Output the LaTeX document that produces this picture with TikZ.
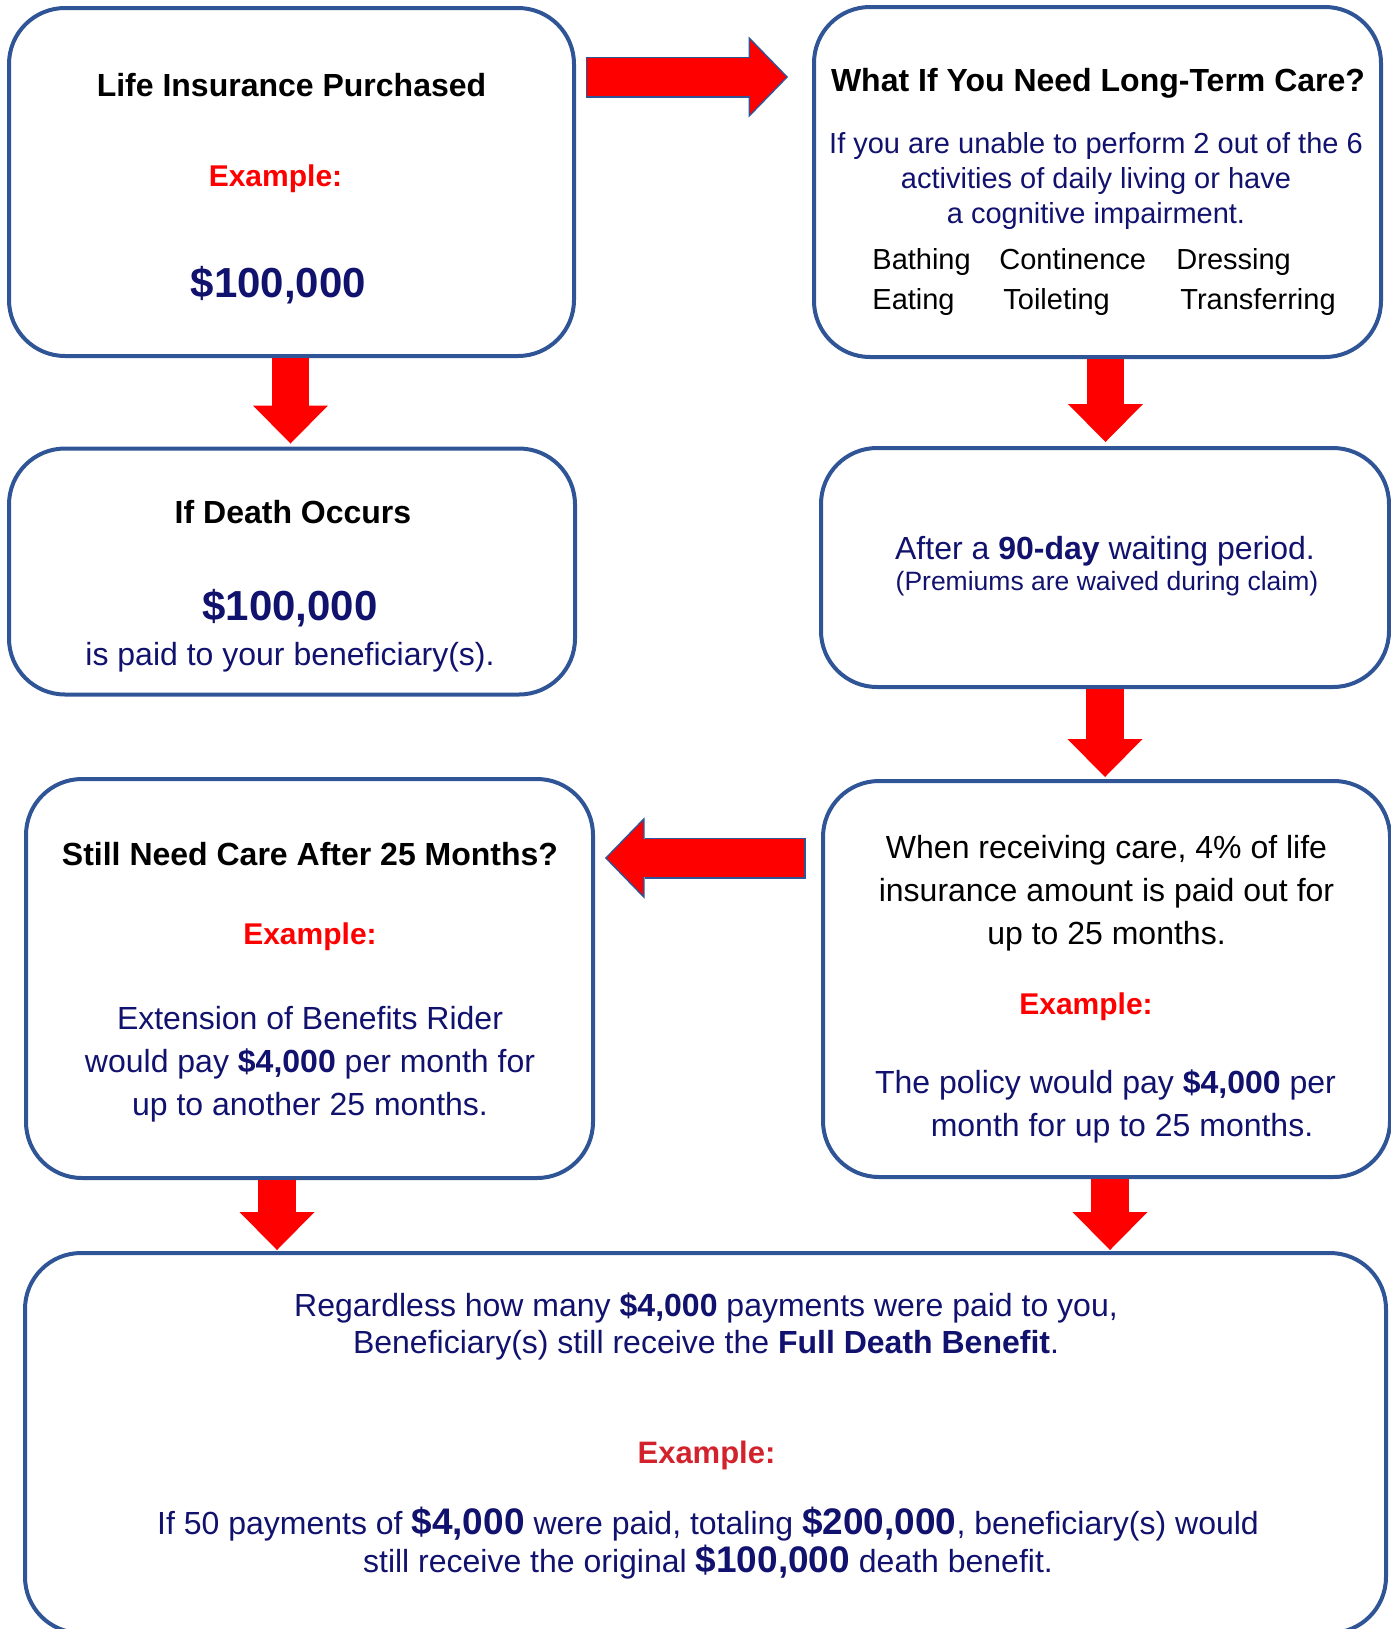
\documentclass[tikz,border=0pt]{standalone}
\usepackage{fontspec}
\setmainfont{Liberation Sans}
\usetikzlibrary{arrows.meta}
\definecolor{boxblue}{RGB}{47,85,151}
\definecolor{navy}{RGB}{17,17,110}
\definecolor{arrowred}{RGB}{255,0,0}
\definecolor{darkred}{RGB}{210,35,45}
\newcommand{\bigamt}[1]{{\fontsize{18.5}{18.5}\selectfont\bfseries #1}}

\begin{document}
\begin{tikzpicture}[x=0.5pt, y=-0.5pt,
    box/.style={draw=boxblue, line width=2pt, rounded corners=28pt, outer sep=0pt, inner sep=0pt},
    head/.style={anchor=base, font=\fontsize{16}{19}\selectfont\bfseries},
    example/.style={anchor=base, text=arrowred, font=\fontsize{15}{18}\selectfont\bfseries},
    amount/.style={anchor=base, text=navy, font=\fontsize{21}{25}\selectfont\bfseries},
    body/.style={text=navy, align=center, font=\fontsize{16}{21.5}\selectfont},
    adl/.style={anchor=base west, inner sep=0pt, font=\fontsize{14.5}{17.5}\selectfont},
    down/.style={draw=arrowred, line width=18.75pt, shorten <=1pt,
        -{Triangle[width=37.5pt, length=19pt, line width=0pt]}},
    sideline/.style={draw=boxblue, line width=20.5pt,
        -{Triangle[width=40.7pt, length=19.8pt, line width=0pt]}},
    sidefill/.style={draw=arrowred, line width=19pt,
        -{Triangle[width=37pt, length=18pt, line width=0pt]}}]

  \useasboundingbox (0,0) rectangle (1391,1629);
  \clip (0,0) rectangle (1391,1629);

  % boxes
  \node[box, minimum width=282.5pt, minimum height=174pt] (life) at (291.5,182) {};
  \node[box, minimum width=283.5pt, minimum height=175pt] (ltc) at (1097.5,182) {};
  \node[box, minimum width=283pt, minimum height=123pt] (death) at (292,571.5) {};
  \node[box, minimum width=284pt, minimum height=119.5pt] (wait) at (1105,567.5) {};
  \node[box, minimum width=283.5pt, minimum height=198pt] (care) at (1106.5,979) {};
  \node[box, minimum width=283.5pt, minimum height=199.5pt] (still) at (309.5,978.5) {};
  \node[box, minimum width=680.5pt, minimum height=190pt] (final) at (705.5,1443) {};

  % life insurance purchased
  \node[head] (lifehead) at (291.5,96) {Life Insurance Purchased};
  \node[example] (lifeex) at (275.5,186) {Example:};
  \node[amount] (lifeamt) at (278.5,297) {\$100,000};

  % long-term care
  \node[head] (ltchead) at (1098,91) {What If You Need Long-Term Care?};
  \node[body, font=\fontsize{14.5}{17.5}\selectfont] (ltcbody) at (1096,180.5)
    {If you are unable to perform 2 out of the 6\\activities of daily living or have\\a cognitive impairment.};
  \node[adl] (bath) at (872,269) {Bathing};
  \node[adl] (cont) at (999,269) {Continence};
  \node[adl] (dress) at (1176,269) {Dressing};
  \node[adl] (eat) at (872,309) {Eating};
  \node[adl] (toil) at (1003,309) {Toileting};
  \node[adl] (trans) at (1180,309) {Transferring};

  % death
  \node[head] (deathhead) at (293,523) {If Death Occurs};
  \node[amount] (deathamt) at (290,620) {\$100,000};
  \node[body, anchor=base] (deathbody) at (290,665) {is paid to your beneficiary(s).};

  % waiting period
  \node[body, anchor=base] (waitbody) at (1105,559) {After a \textbf{90-day} waiting period.};
  \node[body, anchor=base, font=\fontsize{13.25}{16}\selectfont] (waitnote) at (1107,590)
    {(Premiums are waived during claim)};

  % receiving care
  \node[body, text=black] (carebody) at (1106.5,893.5)
    {When receiving care, 4\% of life\\insurance amount is paid out for\\up to 25 months.};
  \node[example] (careex) at (1086,1014) {Example:};
  \node[body] (carepay) at (1105.5,1106.5)
    {The policy would pay \textbf{\$4,000} per\\\hspace*{16.5pt}month for up to 25 months.};

  % still need care
  \node[head] (stillhead) at (310,865) {Still Need Care After 25 Months?};
  \node[example] (stillex) at (310,944) {Example:};
  \node[body] (stillbody) at (310,1064)
    {Extension of Benefits Rider\\would pay \textbf{\$4,000} per month for\\up to another 25 months.};

  % full death benefit
  \node[body, font=\fontsize{16}{18.5}\selectfont] (finaltop) at (706,1326)
    {Regardless how many \textbf{\$4,000} payments were paid to you,\\Beneficiary(s) still receive the \textbf{Full Death Benefit}.};
  \node[example, text=darkred, font=\fontsize{15.5}{18}\selectfont\bfseries] (finalex) at (706.5,1463.5) {Example:};
  \node[body, font=\fontsize{16}{18.75}\selectfont] (finalbody) at (708,1543)
    {If 50 payments of \bigamt{\$4,000} were paid, totaling \bigamt{\$200,000}, beneficiary(s) would\\still receive the original \bigamt{\$100,000} death benefit.};

  % block arrows
  \draw[down, shorten >=2.5pt] (life.south -| 290.5,0) -- (death.north -| 290.5,0);
  \draw[down, shorten >=3pt] (ltc.south -| 1105.5,0) -- (wait.north -| 1105.5,0);
  \draw[down, shorten >=2pt] (wait.south -| 1105,0) -- (care.north -| 1105,0);
  \draw[down, shorten >=1.5pt] (still.south -| 277,0) -- (final.north -| 277,0);
  \draw[down, shorten >=1.5pt] (care.south -| 1110,0) -- (final.north -| 1110,0);

  \draw[sideline, shorten <=5.75pt, shorten >=12.95pt] (life.east |- 0,77) -- (ltc.west |- 0,77);
  \draw[sidefill, shorten <=6.5pt, shorten >=14pt] (life.east |- 0,77) -- (ltc.west |- 0,77);
  \draw[sideline, shorten <=8.75pt, shorten >=5.95pt] (care.west |- 0,858) -- (still.east |- 0,858);
  \draw[sidefill, shorten <=9.5pt, shorten >=7pt] (care.west |- 0,858) -- (still.east |- 0,858);

\end{tikzpicture}
\end{document}
